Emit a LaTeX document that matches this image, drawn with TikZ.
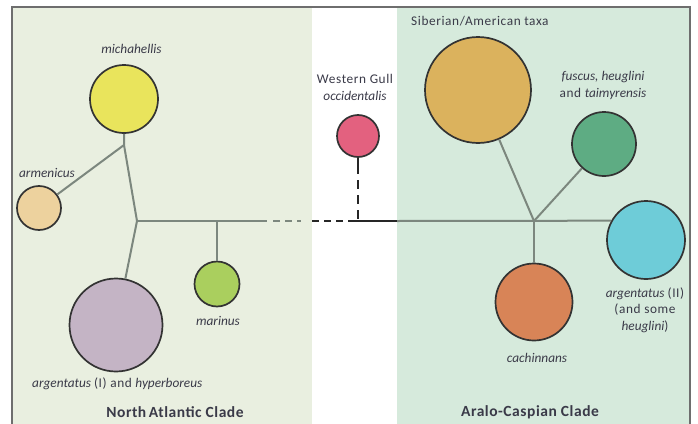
\documentclass[tikz,border=0pt]{standalone}
\usepackage{fontspec}
\setmainfont{Carlito}[UprightFeatures={LetterSpace=4.5},BoldFeatures={LetterSpace=3.5}]
\begin{document}
\begin{tikzpicture}[x=1pt,y=-1pt,
  taxon/.style={circle,draw=black!80,line width=1.7pt,inner sep=0pt,minimum size=#1},
  branch/.style={draw=grayline,line width=2pt},
  lbl/.style={text=txt,font=\fontsize{13.3}{16.5}\selectfont\itshape,inner sep=0pt,align=center},
  clade/.style={text=txt,font=\fontsize{15.5}{17}\selectfont\bfseries,inner sep=0pt}]
\definecolor{leftbg}{HTML}{E9EFE0}
\definecolor{rightbg}{HTML}{D6EADC}
\definecolor{grayline}{HTML}{7C877E}
\definecolor{frame}{HTML}{6E6E6E}
\definecolor{txt}{HTML}{3A3A48}
\definecolor{cmich}{HTML}{E9E45C}
\definecolor{carm}{HTML}{EDD29E}
\definecolor{carg}{HTML}{C4B4C5}
\definecolor{cmar}{HTML}{AACF5E}
\definecolor{cwest}{HTML}{E3617F}
\definecolor{csib}{HTML}{DBB25D}
\definecolor{cfus}{HTML}{5EAC83}
\definecolor{cargb}{HTML}{6ECCD8}
\definecolor{ccach}{HTML}{D88457}
\useasboundingbox (0,0) rectangle (698,423);
\fill[white] (0,0) rectangle (698,423);
% panels
\fill[leftbg] (12,7) rectangle (311.5,430);
\fill[rightbg] (397,7) rectangle (690,430);
\draw[frame,line width=1.3pt] (12,430) -- (12,7) -- (690,7) -- (690,430);
% junctions
\coordinate (jA) at (124,145);
\coordinate (jB) at (137,221);
\coordinate (jR) at (534,221);
\coordinate (dg1) at (266.5,221);
\coordinate (dg2) at (273,221);
\coordinate (dg3) at (301,221);
\coordinate (db1) at (312,221);
\coordinate (db2) at (343,221);
\coordinate (sb1) at (348,221);
\coordinate (sb2) at (397,221);
\coordinate (wt) at (358,221);
\coordinate (wv1) at (358,174);
\coordinate (wv2) at (358,180);
% circles
\node[taxon=68pt,fill=cmich] (mich) at (124,99) {};
\node[taxon=44pt,fill=carm] (arm) at (39,208) {};
\node[taxon=93pt,fill=carg] (argI) at (116,325) {};
\node[taxon=45pt,fill=cmar] (mar) at (217,284) {};
\node[taxon=42pt,fill=cwest] (west) at (358,136) {};
\node[taxon=106pt,fill=csib] (sib) at (478,90) {};
\node[taxon=64pt,fill=cfus] (fus) at (604,144) {};
\node[taxon=77pt,fill=ccach] (cach) at (534,302) {};
\node[taxon=78pt,fill=cargb] (argII) at (646,240) {};
% branches
\draw[branch] (mich) -- (jA) -- (jB);
\draw[branch] (arm) -- (jA);
\draw[branch] (jB) -- (argI);
\draw[branch] (jB) -- (dg1);
\draw[branch] (mar) -- (mar |- jB);
\draw[branch,dash pattern=on 7pt off 5pt] (dg2) -- (dg3);
\draw[black!85,line width=2pt,dash pattern=on 7pt off 5pt] (db1) -- (db2);
\draw[black!85,line width=2pt] (sb1) -- (sb2);
\draw[black!85,line width=2pt] (west) -- (wv1);
\draw[black!85,line width=2pt,dash pattern=on 9pt off 6pt] (wv2) -- (wt);
\draw[branch] (sb2) -- (argII.151);
\draw[branch] (sib) -- (jR);
\draw[branch] (fus) -- (jR);
\draw[branch] (jR) -- (cach);
% labels
\node[lbl] (lmich) at (131.5,49) {michahellis};
\node[lbl] (larm) at (47,173) {armenicus};
\node[lbl] (lmar) at (218,321) {marinus};
\node[lbl,anchor=west] (largI) at (32,384) {argentatus \upshape(I) and \itshape hyperboreus};
\node[lbl] (lwest) at (355,87.5) {\upshape Western Gull\\occidentalis};
\node[lbl,anchor=west] (lsib) at (411,21) {\upshape Siberian/American taxa};
\node[lbl] (lfus) at (603,85.5) {fuscus, heuglini\\\upshape and \itshape taimyrensis};
\node[lbl] (lcach) at (537,358) {cachinnans};
\node[lbl] (largII) at (645,310) {argentatus \upshape(II)\\\upshape(and some\\heuglini\upshape)};
\node[clade] (cna) at (175,412) {North\,Atlantic Clade};
\node[clade] (cac) at (530,412) {Aralo-Caspian Clade};
\end{tikzpicture}
\end{document}
